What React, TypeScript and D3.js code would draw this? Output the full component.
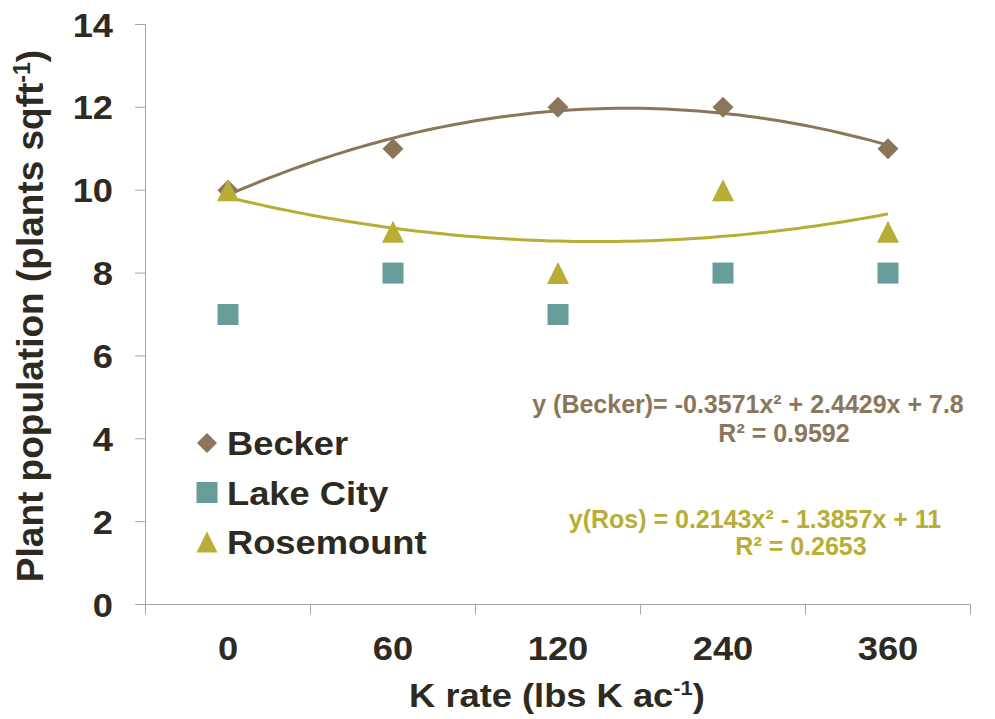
import React from "react";
import * as d3 from "d3";

const categories = ["0", "60", "120", "240", "360"];
const becker = [10, 11, 12, 12, 11];
const lakeCity = [7, 8, 7, 8, 8];
const rosemount = [10, 9, 8, 10, 9];
const beckerCoef = [-0.3571, 2.4429, 7.8];
const rosCoef = [0.2143, -1.3857, 11];
const yTicks = [0, 2, 4, 6, 8, 10, 12, 14];
const seriesNames = ["Becker", "Lake City", "Rosemount"];

const W = 995, H = 719;
const C_BECKER = "#8c7659";
const C_LAKE = "#679c9a";
const C_ROS = "#b8ad35";
const TXT = "#2e2a1f";
const AX = "#a6a6a6";
const FONT = "'Liberation Sans', Arial, sans-serif";
const SX = 1.1;

export default function App() {
  const x = d3.scaleLinear().domain([0.5, 5.5]).range([145.5, 970.5]);
  const y = d3.scaleLinear().domain([0, 14]).range([604.5, 24.5]);
  const cx = (i: number) => x(i + 1);

  const curve = (c: number[]) => {
    const pts = d3.range(1, 5.0001, 0.05).map((t) => [x(t), y(c[0] * t * t + c[1] * t + c[2])] as [number, number]);
    return d3.line().curve(d3.curveLinear)(pts) || "";
  };

  const diamond = (px: number, py: number, r: number, fill: string, key?: any) => (
    <path key={key} d={`M${px},${py - r}L${px + r},${py}L${px},${py + r}L${px - r},${py}Z`} fill={fill} />
  );
  const square = (px: number, py: number, s: number, fill: string, key?: any) => (
    <rect key={key} x={px - s / 2} y={py - s / 2} width={s} height={s} fill={fill} />
  );
  const tri = (px: number, py: number, w: number, h: number, fill: string, key?: any) => (
    <path key={key} d={`M${px},${py - h / 2}L${px + w / 2},${py + h / 2}L${px - w / 2},${py + h / 2}Z`} fill={fill} />
  );

  const xTickPos = d3.range(0, 6).map((i) => x(0.5 + i));

  const st = (tx: number, ty: number) => `translate(${tx},${ty}) scale(${SX},1)`;

  return (
    <svg width={W} height={H} style={{ position: "absolute", left: 0, top: 0 }} fontFamily={FONT}>
      <rect width={W} height={H} fill="#fff" />
      {/* axes */}
      <line x1={145.5} x2={145.5} y1={y(14)} y2={y(0)} stroke={AX} strokeWidth={1} />
      <line x1={145.5} x2={970.5} y1={y(0)} y2={y(0)} stroke={AX} strokeWidth={1} />
      {yTicks.map((t) => (
        <g key={t}>
          <line x1={135} x2={145.5} y1={y(t)} y2={y(t)} stroke={AX} />
          <text transform={st(113, y(t) + 12)} textAnchor="end" fontSize={33} fontWeight="bold" fill={TXT}>{t}</text>
        </g>
      ))}
      {xTickPos.map((p, i) => (
        <line key={i} x1={p} x2={p} y1={y(0)} y2={y(0) + 10} stroke={AX} />
      ))}
      {categories.map((c, i) => (
        <text key={c} transform={st(cx(i), 660)} textAnchor="middle" fontSize={33} fontWeight="bold" fill={TXT}>{c}</text>
      ))}
      {/* axis titles */}
      <text transform={st(557, 707)} textAnchor="middle" fontSize={33} fontWeight="bold" fill={TXT}>
        K rate (lbs K ac<tspan dy={-12} fontSize={20}>-1</tspan><tspan dy={12}>)</tspan>
      </text>
      <text transform={`translate(43,316) rotate(-90)`} textAnchor="middle" fontSize={37} fontWeight="bold" fill={TXT}>
        Plant population (plants sqft<tspan dy={-13} fontSize={23}>-1</tspan><tspan dy={13}>)</tspan>
      </text>
      {/* trendlines */}
      <path d={curve(beckerCoef)} fill="none" stroke={C_BECKER} strokeWidth={3} />
      <path d={curve(rosCoef)} fill="none" stroke={C_ROS} strokeWidth={3} />
      {/* points */}
      {becker.map((v, i) => diamond(cx(i), y(v), 10.5, C_BECKER, "b" + i))}
      {lakeCity.map((v, i) => square(cx(i), y(v), 21, C_LAKE, "l" + i))}
      {rosemount.map((v, i) => tri(cx(i), y(v), 22, 22, C_ROS, "r" + i))}
      {/* legend */}
      {seriesNames.map((n, i) => {
        const ly = 443 + i * 49.5;
        return (
          <g key={n}>
            {i === 0 && diamond(207, ly, 10, C_BECKER)}
            {i === 1 && square(207, ly, 21, C_LAKE)}
            {i === 2 && tri(207, ly, 21, 21, C_ROS)}
            <text transform={st(227, ly + 12)} fontSize={33} fontWeight="bold" fill={TXT}>{n}</text>
          </g>
        );
      })}
      {/* equations */}
      <g fontSize={25} fontWeight="bold" textAnchor="middle">
        <text x={748} y={413} fill={C_BECKER}>{`y (Becker)= ${beckerCoef[0]}x² + ${beckerCoef[1]}x + ${beckerCoef[2]}`}</text>
        <text x={784} y={442} fill={C_BECKER}>R² = 0.9592</text>
        <text x={755} y={528} fill={C_ROS}>{`y(Ros) = ${rosCoef[0]}x² - ${Math.abs(rosCoef[1])}x + ${rosCoef[2]}`}</text>
        <text x={801} y={555} fill={C_ROS}>R² = 0.2653</text>
      </g>
    </svg>
  );
}
